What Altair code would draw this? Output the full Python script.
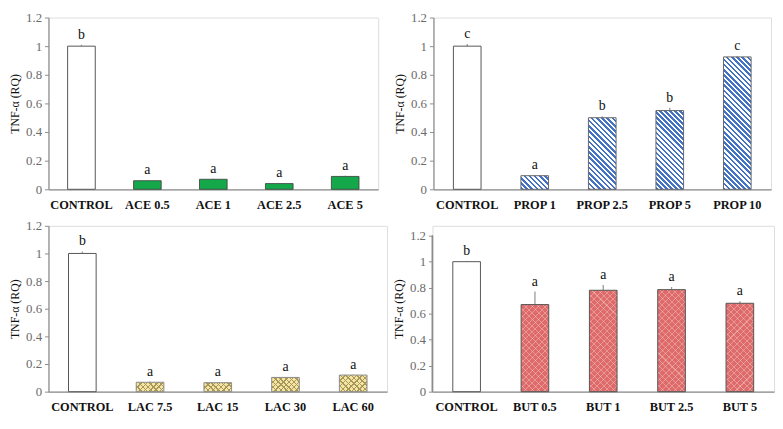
import altair as alt
import pandas as pd

# ---------------- data ----------------
ace_cats = ["CONTROL", "ACE 0.5", "ACE 1", "ACE 2.5", "ACE 5"]
ace_vals = [1.0, 0.06, 0.07, 0.04, 0.09]
ace_errs = [0.01, 0.004, 0.004, 0.003, 0.004]
ace_letters = ["b", "a", "a", "a", "a"]

prop_cats = ["CONTROL", "PROP 1", "PROP 2.5", "PROP 5", "PROP 10"]
prop_vals = [1.0, 0.095, 0.50, 0.55, 0.925]
prop_errs = [0.015, 0.003, 0.01, 0.02, 0.004]
prop_letters = ["c", "a", "b", "b", "c"]

lac_cats = ["CONTROL", "LAC 7.5", "LAC 15", "LAC 30", "LAC 60"]
lac_vals = [1.0, 0.068, 0.065, 0.103, 0.12]
lac_errs = [0.015, 0.006, 0.003, 0.003, 0.004]
lac_letters = ["b", "a", "a", "a", "a"]

but_cats = ["CONTROL", "BUT 0.5", "BUT 1", "BUT 2.5", "BUT 5"]
but_vals = [1.0, 0.67, 0.78, 0.785, 0.68]
but_errs = [0.006, 0.10, 0.04, 0.02, 0.015]
but_letters = ["b", "a", "a", "a", "a"]

y_ticks = [0, 0.2, 0.4, 0.6, 0.8, 1.0, 1.2]

SERIF = "Liberation Serif"
AXIS_GRAY = "#8c8c8c"
BAR_W = 28
YMAX = 1.2


def stripes(w, h, period, direction, line_color, bg_color, frac):
    """Linear gradient that draws 45-degree stripes on a w x h bar."""
    k = (w + h) / (w * w + h * h)
    if direction == "back":
        x1, y1, x2, y2 = 0, 1, w * k, 1 - h * k
    else:
        x1, y1, x2, y2 = 0, 0, w * k, h * k
    n = max(1, round((w + h) / period))
    stops = []
    for i in range(n):
        a = i / n
        b = (i + frac) / n
        c = (i + 1) / n
        stops += [
            {"offset": a, "color": line_color},
            {"offset": b, "color": line_color},
            {"offset": b, "color": bg_color},
            {"offset": c, "color": bg_color},
        ]
    return {"gradient": "linear", "x1": x1, "y1": y1, "x2": x2, "y2": y2,
            "stops": stops}


def panel(cats, vals, errs, letters, style, width, height, top_gap=0):
    df = pd.DataFrame({"cat": cats, "val": vals, "err": errs,
                       "letter": letters})
    df["top"] = df["val"] + df["err"]
    dom_max = YMAX * height / (height - top_gap)
    base = alt.Chart(df)
    x = alt.X("cat:N", sort=cats, scale=alt.Scale(paddingInner=0.0, paddingOuter=0.0),
              axis=alt.Axis(title=None, labelAngle=0, ticks=False,
                            labelFont=SERIF, labelFontWeight="bold",
                            labelFontSize=12.5, labelColor="#111111",
                            labelPadding=9, domainColor=AXIS_GRAY,
                            domainWidth=1.2))
    yscale = alt.Scale(domain=[0, dom_max], nice=False)
    yaxis = alt.Axis(title="TNF-α (RQ)", values=y_ticks,
                     format="~g", grid=False, labelFont=SERIF,
                     labelOverlap=False,
                     labelFontSize=13, labelColor="#6b6b6b",
                     labelPadding=3, tickSize=4, tickColor=AXIS_GRAY,
                     domain=(top_gap == 0),
                     domainColor=AXIS_GRAY, domainWidth=1.2,
                     titleFont=SERIF, titleFontSize=12,
                     titleFontWeight="normal", titleColor="#111111",
                     titlePadding=4)
    y = alt.Y("val:Q", scale=yscale, axis=yaxis)
    ytop = alt.Y("top:Q", scale=yscale, axis=yaxis)

    layers = []
    if top_gap:
        layers.append(base.mark_rule(color=AXIS_GRAY, strokeWidth=1.2).encode(
            x=alt.value(0), y=alt.Y(datum=0, scale=yscale, axis=yaxis),
            y2=alt.datum(YMAX)))
    # error bars (up only)
    layers.append(base.mark_rule(color="#9a9a9a", strokeWidth=1.3).encode(
        x=x, y=y, y2="top:Q"))

    ctrl = base.transform_filter(alt.datum.cat == "CONTROL")
    layers.append(ctrl.mark_bar(size=BAR_W, fill="white", stroke="#555555",
                                strokeWidth=1).encode(x=x, y=y))

    for c, v in zip(cats[1:], vals[1:]):
        sub = base.transform_filter(alt.datum.cat == c)
        h = v / dom_max * height
        if style == "ace":
            layers.append(sub.mark_bar(size=BAR_W, fill="#14a84b",
                                       stroke="#3a3a3a", strokeWidth=0.8)
                          .encode(x=x, y=y))
        elif style == "prop":
            g = stripes(BAR_W, h, 5.2, "back", "#4472c4", "#ffffff", 0.5)
            layers.append(sub.mark_bar(size=BAR_W, fill=g, stroke="#666666",
                                       strokeWidth=1).encode(x=x, y=y))
        elif style == "lac":
            layers.append(sub.mark_bar(size=BAR_W, fill="#f4e5a6",
                                       strokeWidth=0).encode(x=x, y=y))
            g1 = stripes(BAR_W, h, 5.5, "back", "#a89858", "rgba(0,0,0,0)", 0.26)
            g2 = stripes(BAR_W, h, 5.5, "fwd", "#a89858", "rgba(0,0,0,0)", 0.26)
            layers.append(sub.mark_bar(size=BAR_W, fill=g1, strokeWidth=0)
                          .encode(x=x, y=y))
            layers.append(sub.mark_bar(size=BAR_W, fill=g2, stroke="#8a8a8a",
                                       strokeWidth=1).encode(x=x, y=y))
        elif style == "but":
            layers.append(sub.mark_bar(size=BAR_W, fill="#de6a6a",
                                       strokeWidth=0).encode(x=x, y=y))
            g1 = stripes(BAR_W, h, 6.5, "back", "rgba(255,255,255,0.3)",
                         "rgba(0,0,0,0)", 0.16)
            g2 = stripes(BAR_W, h, 6.5, "fwd", "rgba(255,255,255,0.3)",
                         "rgba(0,0,0,0)", 0.16)
            layers.append(sub.mark_bar(size=BAR_W, fill=g1, strokeWidth=0)
                          .encode(x=x, y=y))
            layers.append(sub.mark_bar(size=BAR_W, fill=g2, stroke="#555555",
                                       strokeWidth=1).encode(x=x, y=y))

    layers.append(base.mark_text(font=SERIF, fontSize=14, color="#111111",
                                 baseline="bottom", dy=-3).encode(
        x=x, y=ytop, text="letter:N"))

    return alt.layer(*layers).properties(width=width, height=height)


tl = panel(ace_cats, ace_vals, ace_errs, ace_letters, "ace", 334, 174)
tr = panel(prop_cats, prop_vals, prop_errs, prop_letters, "prop", 342, 174)
bl = panel(lac_cats, lac_vals, lac_errs, lac_letters, "lac", 343, 168)
br = panel(but_cats, but_vals, but_errs, but_letters, "but", 346, 168, top_gap=10)

chart = alt.vconcat(
    alt.hconcat(tl, tr, spacing=14),
    alt.hconcat(bl, br, spacing=4),
    spacing=8,
).properties(padding=0).configure_view(stroke=None).configure(background="white")

chart.save("out.html", embed_options={"renderer": "svg", "actions": False})
